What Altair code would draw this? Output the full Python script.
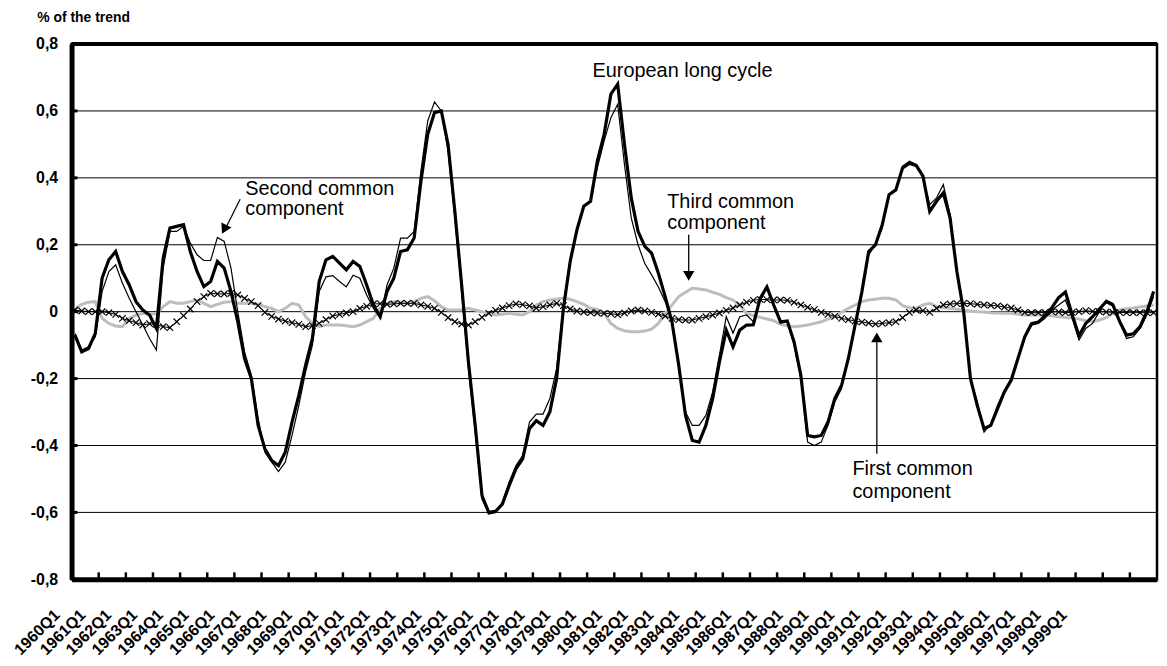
import json
import altair as alt
import pandas as pd

# ---------------- data ----------------
years = list(range(1960, 2000))
quarter_labels = [f"{y}Q{q}" for y in years for q in range(1, 5)]
year_labels = [f"{y}Q1" for y in years]

european_long_cycle = [
    -0.07, -0.12, -0.11, -0.065, 0.10, 0.155, 0.18, 0.12, 0.08, 0.03,
    0.005, -0.01, -0.05, 0.16, 0.25, 0.255, 0.26, 0.18, 0.12, 0.075,
    0.09, 0.15, 0.13, 0.06, -0.03, -0.14, -0.20, -0.34, -0.41, -0.445,
    -0.46, -0.42, -0.33, -0.25, -0.16, -0.08, 0.09, 0.155, 0.165, 0.145,
    0.125, 0.15, 0.135, 0.08, 0.02, -0.015, 0.06, 0.10, 0.18, 0.185,
    0.22, 0.39, 0.53, 0.595, 0.60, 0.50, 0.30, 0.08, -0.15, -0.34,
    -0.55, -0.60, -0.597, -0.575, -0.52, -0.47, -0.44, -0.35, -0.326, -0.34,
    -0.30, -0.20, 0.01, 0.15, 0.245, 0.315, 0.33, 0.45, 0.53, 0.65,
    0.68, 0.50, 0.34, 0.24, 0.195, 0.175, 0.115, 0.045, -0.03, -0.16,
    -0.31, -0.385, -0.39, -0.34, -0.26, -0.15, -0.055, -0.105, -0.055, -0.04,
    -0.039, 0.04, 0.074, 0.02, -0.03, -0.028, -0.09, -0.19, -0.37, -0.374,
    -0.37, -0.33, -0.26, -0.22, -0.14, -0.04, 0.06, 0.18, 0.20, 0.26,
    0.35, 0.364, 0.43, 0.443, 0.437, 0.405, 0.30, 0.33, 0.355, 0.28,
    0.12, 0.0, -0.20, -0.28, -0.35, -0.34, -0.29, -0.24, -0.205, -0.14,
    -0.075, -0.036, -0.031, -0.012, 0.012, 0.042, 0.059, -0.01, -0.072, -0.035,
    -0.015, 0.008, 0.03, 0.02, -0.03, -0.07, -0.066, -0.045, 0.0, 0.06,
]

second_common = [
    -0.065, -0.115, -0.105, -0.075, 0.06, 0.12, 0.14, 0.085, 0.04, 0.0,
    -0.04, -0.08, -0.115, 0.13, 0.24, 0.24, 0.255, 0.205, 0.17, 0.153,
    0.153, 0.222, 0.21, 0.13, 0.0, -0.12, -0.19, -0.32, -0.42, -0.45,
    -0.478, -0.45, -0.37, -0.28, -0.18, -0.10, 0.06, 0.104, 0.108, 0.09,
    0.074, 0.109, 0.10, 0.05, 0.01, -0.02, 0.08, 0.13, 0.22, 0.22,
    0.24, 0.42, 0.57, 0.627, 0.60, 0.48, 0.28, 0.06, -0.17, -0.36,
    -0.56, -0.605, -0.60, -0.57, -0.51, -0.46, -0.43, -0.33, -0.306, -0.306,
    -0.26, -0.17, 0.02, 0.16, 0.25, 0.315, 0.33, 0.43, 0.51, 0.58,
    0.62, 0.44, 0.28, 0.20, 0.144, 0.11, 0.074, 0.03, -0.03, -0.16,
    -0.30, -0.34, -0.34, -0.31, -0.24, -0.13, -0.015, -0.064, -0.015, -0.01,
    -0.03, 0.035, 0.07, 0.015, -0.035, -0.03, -0.10, -0.20, -0.39, -0.40,
    -0.39, -0.34, -0.27, -0.23, -0.14, -0.045, 0.055, 0.17, 0.20, 0.25,
    0.35, 0.365, 0.435, 0.45, 0.44, 0.40, 0.32, 0.34, 0.38, 0.29,
    0.12, 0.0, -0.20, -0.27, -0.36, -0.335, -0.28, -0.235, -0.20, -0.14,
    -0.08, -0.04, -0.035, -0.02, 0.005, 0.02, 0.035, -0.02, -0.085, -0.05,
    -0.035, 0.0, 0.035, 0.025, -0.03, -0.08, -0.075, -0.05, -0.01, 0.045,
]

third_common = [
    0.008, 0.022, 0.028, 0.03, -0.02, -0.035, -0.043, -0.045, -0.02, -0.01,
    -0.005, -0.008, -0.006, 0.015, 0.03, 0.025, 0.025, 0.03, 0.035, 0.025,
    0.015, 0.022, 0.028, 0.03, 0.025, 0.025, 0.025, 0.022, 0.015, 0.01,
    0.0, 0.01, 0.025, 0.02, -0.015, -0.035, -0.045, -0.04, -0.04, -0.04,
    -0.042, -0.045, -0.04, -0.03, -0.02, 0.01, 0.025, 0.03, 0.028, 0.025,
    0.03, 0.04, 0.045, 0.033, 0.015, 0.005, 0.005, 0.005, 0.01, 0.005,
    0.0, -0.005, -0.01, -0.008, -0.005, -0.008, -0.01, 0.0, 0.02, 0.03,
    0.035, 0.038, 0.04, 0.037, 0.03, 0.022, 0.01, 0.007, -0.005, -0.035,
    -0.05, -0.057, -0.06, -0.06, -0.058, -0.052, -0.035, -0.005, 0.02, 0.045,
    0.058, 0.07, 0.068, 0.065, 0.058, 0.052, 0.042, 0.035, 0.02, -0.005,
    -0.012, -0.017, -0.022, -0.027, -0.038, -0.042, -0.045, -0.043, -0.04, -0.035,
    -0.03, -0.022, -0.015, -0.002, 0.01, 0.02, 0.03, 0.035, 0.037, 0.04,
    0.04, 0.035, 0.018, 0.012, 0.01, 0.02, 0.025, 0.015, 0.012, 0.01,
    0.007, 0.004, 0.002, 0.0, -0.001, -0.003, -0.004, -0.005, -0.005, -0.008,
    -0.01, -0.01, -0.01, -0.01, -0.012, -0.015, -0.017, -0.02, -0.022, -0.027,
    -0.03, -0.025, -0.018, -0.005, 0.005, 0.009, 0.011, 0.014, 0.017, 0.02,
]

first_common = [
    0.005, 0.002, 0.0, 0.0, 0.0, -0.003, -0.008, -0.02, -0.027, -0.033,
    -0.04, -0.036, -0.038, -0.045, -0.048, -0.03, -0.012, 0.008, 0.03, 0.045,
    0.055, 0.053, 0.053, 0.055, 0.05, 0.04, 0.03, 0.018, -0.002, -0.014,
    -0.022, -0.028, -0.033, -0.038, -0.045, -0.042, -0.035, -0.024, -0.013, -0.008,
    -0.004, 0.0, 0.01, 0.016, 0.023, 0.024, 0.022, 0.023, 0.025, 0.025,
    0.025, 0.02, 0.016, 0.01, -0.002, -0.018, -0.03, -0.037, -0.04, -0.03,
    -0.017, -0.005, 0.004, 0.011, 0.018, 0.023, 0.021, 0.017, 0.011, 0.015,
    0.02, 0.025, 0.018, 0.008, 0.002, -0.001, -0.003, -0.004, -0.005, -0.006,
    -0.009, -0.004, 0.002, 0.005, 0.002, -0.002, -0.007, -0.013, -0.02, -0.024,
    -0.025, -0.025, -0.02, -0.015, -0.01, -0.004, 0.004, 0.011, 0.02, 0.028,
    0.034, 0.037, 0.036, 0.035, 0.035, 0.034, 0.028, 0.02, 0.013, 0.006,
    -0.002, -0.008, -0.014, -0.02, -0.024, -0.028, -0.031, -0.034, -0.037, -0.035,
    -0.033, -0.03, -0.018, -0.002, 0.005, 0.003, -0.002, 0.01, 0.02, 0.023,
    0.024, 0.025, 0.024, 0.022, 0.02, 0.019, 0.017, 0.014, 0.011, 0.005,
    -0.002, -0.003, -0.003, -0.002, 0.0, -0.001, -0.003, -0.002, 0.0, 0.003,
    0.001, 0.0, -0.001, -0.002, -0.002, -0.003, -0.003, -0.003, -0.003, -0.003,
]

y_ticks = [-0.8, -0.6, -0.4, -0.2, 0.0, 0.2, 0.4, 0.6, 0.8]
year_ticks = list(range(4, 160, 4))   # quarter positions of the year boundaries

# annotation texts (position in quarter units, value in % of trend)
note_text = ["Second common", "component", "European long cycle",
             "Third common", "component", "First common", "component"]
note_pos = [25.6, 25.6, 76.8, 87.8, 87.8, 115.1, 115.1]
note_val = [0.349, 0.289, 0.701, 0.311, 0.247, -0.489, -0.558]

arrow_pos = [24.85, 90.97, 118.7]
arrow_val = [0.336, 0.23, -0.425]
arrow_pos2 = [22.6, 90.97, 118.7]
arrow_val2 = [0.245, 0.10, -0.075]
head_pos = [22.5, 90.97, 118.7]
head_val = [0.246, 0.107, -0.077]
head_angle = [207, 180, 0]

# ---------------- chart ----------------
N = len(quarter_labels)
df = pd.DataFrame({
    "pos": [i + 0.5 for i in range(N)],
    "quarter": quarter_labels,
    "long": european_long_cycle,
    "second": second_common,
    "third": third_common,
    "first": first_common,
})

W, H = 1093, 539
FONT = "Liberation Sans"

xscale = alt.Scale(domain=[0, N], nice=False, zero=False)
yscale = alt.Scale(domain=[-0.8, 0.8], nice=False, zero=False)

# the category labels are set a little tighter than the year ticks (as in the source)
LABEL_STEP = 26.0                      # px between successive year labels
label_scale = alt.Scale(domain=[0, W / LABEL_STEP * 4], nice=False, zero=False)
label_df = pd.DataFrame({"lp": [4 * k for k in range(len(year_labels))]})
label_expr = json.dumps(year_labels) + "[round(datum.value / 4)]"

x_axis = alt.Axis(
    values=list(label_df["lp"]), labelExpr=label_expr, labelAngle=315,
    labelAlign="right", labelBaseline="middle", labelFont=FONT,
    labelFontWeight="bold", labelFontSize=16, labelColor="black",
    labelPadding=33, labelOffset=-15, labelOverlap=False,
    labelFlush=False, labelBound=False, ticks=False, grid=False,
    domain=True, domainColor="black", domainWidth=5, title=None,
    orient="bottom",
)
y_axis = alt.Axis(
    values=y_ticks,
    labelExpr=("datum.value == 0 ? '0' : (datum.value < 0 ? '-' : '') + "
               "replace(format(abs(datum.value), '.1f'), '.', ',')"),
    grid=False, domain=True, domainColor="black", domainWidth=5, ticks=False,
    labelFont=FONT, labelFontWeight="bold",
    labelFontSize=16, labelColor="black", labelPadding=14,
    title="% of the trend", titleAngle=0, titleAlign="left",
    titleBaseline="alphabetic", titleX=-35, titleY=-23, titleFont=FONT,
    titleFontSize=14, titleFontWeight="bold", titleColor="black",
    orient="left",
)

# horizontal grid lines (top one is the heavy frame line)
grid_df = pd.DataFrame({"v": y_ticks})
grid = alt.Chart(grid_df).mark_rule(color="black").encode(
    y=alt.Y("v:Q", scale=yscale, axis=None),
    strokeWidth=alt.condition("datum.v > 0.79", alt.value(4), alt.value(1)),
)
# short inward ticks on the value axis
ytick_layer = alt.Chart(grid_df).mark_rule(color="black", strokeWidth=3).encode(
    y=alt.Y("v:Q", scale=yscale, axis=None),
    x=alt.value(0), x2=alt.value(6),
)
# short upward year ticks on the category axis
xt_df = pd.DataFrame({"t": year_ticks})
xtick_layer = alt.Chart(xt_df).mark_rule(color="black", strokeWidth=2.5).encode(
    x=alt.X("t:Q", scale=xscale, axis=None),
    y=alt.value(H), y2=alt.value(H - 7),
)
# category labels
label_layer = alt.Chart(label_df).mark_point(opacity=0, size=1).encode(
    x=alt.X("lp:Q", scale=label_scale, axis=x_axis),
    y=alt.value(H),
)

base = alt.Chart(df)

gray = base.mark_line(color="#bdbdbd", strokeWidth=3).encode(
    x=alt.X("pos:Q", scale=xscale, axis=None),
    y=alt.Y("third:Q", scale=yscale, axis=None),
)
first_line = base.mark_line(color="black", strokeWidth=1).encode(
    x=alt.X("pos:Q", scale=xscale, axis=None),
    y=alt.Y("first:Q", scale=yscale, axis=None),
)
first_pts = base.mark_point(
    shape="M-1,-1L1,1M-1,1L1,-1", size=42, color="black",
    strokeWidth=1.2, filled=False, opacity=1,
).encode(
    x=alt.X("pos:Q", scale=xscale, axis=None),
    y=alt.Y("first:Q", scale=yscale, axis=None),
)
second_line = base.mark_line(color="black", strokeWidth=1.2).encode(
    x=alt.X("pos:Q", scale=xscale, axis=None),
    y=alt.Y("second:Q", scale=yscale, axis=None),
)
long_line = base.mark_line(color="black", strokeWidth=3.2).encode(
    x=alt.X("pos:Q", scale=xscale, axis=None),
    y=alt.Y("long:Q", scale=yscale, axis=y_axis),
)

notes_df = pd.DataFrame({"text": note_text, "pos": note_pos, "val": note_val})
notes = alt.Chart(notes_df).mark_text(
    align="left", baseline="alphabetic", font=FONT, fontSize=20, color="black"
).encode(
    x=alt.X("pos:Q", scale=xscale, axis=None),
    y=alt.Y("val:Q", scale=yscale, axis=None),
    text="text:N",
)

arrows_df = pd.DataFrame({"pos": arrow_pos, "val": arrow_val,
                          "pos2": arrow_pos2, "val2": arrow_val2})
arrows = alt.Chart(arrows_df).mark_rule(color="black", strokeWidth=1.3).encode(
    x=alt.X("pos:Q", scale=xscale, axis=None),
    y=alt.Y("val:Q", scale=yscale, axis=None),
    x2="pos2:Q",
    y2="val2:Q",
)
heads_df = pd.DataFrame({"pos": head_pos, "val": head_val, "ang": head_angle})
heads = alt.Chart(heads_df).mark_point(
    shape="triangle-up", filled=True, color="black", size=130, opacity=1
).encode(
    x=alt.X("pos:Q", scale=xscale, axis=None),
    y=alt.Y("val:Q", scale=yscale, axis=None),
    angle=alt.Angle("ang:Q", scale=None),
)

chart = alt.layer(
    grid, gray, first_line, first_pts, second_line, long_line,
    ytick_layer, xtick_layer, label_layer, notes, arrows, heads
).resolve_scale(
    x="independent"
).resolve_axis(
    x="independent", y="independent"
).properties(
    width=W, height=H,
    autosize=alt.AutoSizeParams(type="none"),
    padding={"left": 64, "top": 34, "right": 2, "bottom": 84},
).configure(
    background="white", font=FONT
).configure_view(
    stroke="black", strokeWidth=2.5
)

chart.save("out.html", embed_options={"renderer": "svg", "actions": False})
